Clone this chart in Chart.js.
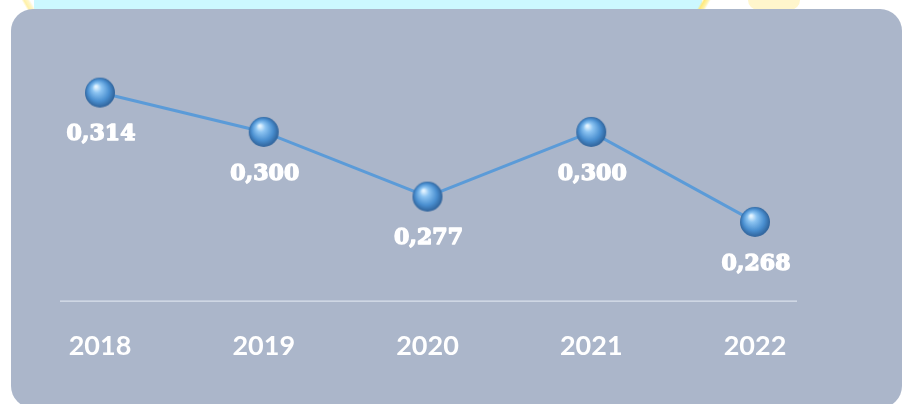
<!DOCTYPE html>
<html>
<head>
<meta charset="utf-8">
<script src="https://cdn.jsdelivr.net/npm/chart.js@4.4.0/dist/chart.umd.min.js"></script>
<style>
  html, body { margin:0; padding:0; background:#ffffff; width:905px; height:404px; overflow:hidden; }
  #wrap { position:relative; width:905px; height:404px; }
  .deco { position:absolute; }
  #panel { position:absolute; left:11px; top:9px; width:891px; height:399px; background:#abb6ca; border-radius:22px; }
  canvas { position:absolute; left:0; top:0; }
</style>
</head>
<body>
<div id="wrap">
  <div class="deco" style="left:34px;top:0;width:668px;height:10px;background:#ccf8ff;"></div>
  <div class="deco" style="left:18px;top:0;width:20px;height:10px;background:linear-gradient(60deg,transparent 35%,#fff1a8 45%,#fff6c8 60%,transparent 70%);"></div>
  <div class="deco" style="left:693px;top:0;width:20px;height:10px;background:linear-gradient(120deg,transparent 35%,#ffe97a 45%,#fff3b0 60%,transparent 70%);"></div>
  <div class="deco" style="left:748px;top:0;width:52px;height:10px;background:#fff6cc;border-radius:0 0 20px 20px;"></div>
  <div id="panel"></div>
  <canvas id="c" width="905" height="404"></canvas>
</div>
<script>
const years = ["2018", "2019", "2020", "2021", "2022"];
const values = [0.314, 0.300, 0.277, 0.300, 0.268];
const valueLabels = ["0,314", "0,300", "0,277", "0,300", "0,268"];

function makeSphere() {
  const s = 32, c = document.createElement('canvas');
  c.width = s; c.height = s;
  const g = c.getContext('2d');
  const grad = g.createRadialGradient(12, 10, 1, 16, 16, 16);
  grad.addColorStop(0, '#e2f3ff');
  grad.addColorStop(0.25, '#8cc4f2');
  grad.addColorStop(0.65, '#4a8fd0');
  grad.addColorStop(1, '#2a5a90');
  g.beginPath(); g.arc(16, 16, 15, 0, Math.PI * 2);
  g.fillStyle = grad; g.fill();
  return c;
}
const sphere = makeSphere();

const decorPlugin = {
  id: 'decor',
  beforeDatasetsDraw(chart) {
    const ctx = chart.ctx, x = chart.scales.x, a = chart.chartArea;
    ctx.save();
    ctx.strokeStyle = 'rgba(235,240,248,0.75)';
    ctx.lineWidth = 1.3;
    ctx.beginPath();
    ctx.moveTo(x.getPixelForValue(0) - 40, a.bottom + 0.5);
    ctx.lineTo(x.getPixelForValue(years.length - 1) + 42, a.bottom + 0.5);
    ctx.stroke();
    ctx.restore();
  },
  afterDatasetsDraw(chart) {
    const ctx = chart.ctx, meta = chart.getDatasetMeta(0);
    ctx.save();
    ctx.font = 'bold 22px "DejaVu Serif"';
    ctx.fillStyle = '#ffffff';
    ctx.strokeStyle = '#ffffff';
    ctx.lineWidth = 1.4;
    ctx.lineJoin = 'round';
    ctx.textAlign = 'center';
    ctx.textBaseline = 'middle';
    meta.data.forEach((pt, i) => {
      ctx.strokeText(valueLabels[i], pt.x + 1, pt.y + 42);
      ctx.fillText(valueLabels[i], pt.x + 1, pt.y + 42);
    });
    ctx.restore();
  }
};

new Chart(document.getElementById('c'), {
  type: 'line',
  data: {
    labels: years,
    datasets: [{
      data: values,
      borderColor: '#5b9bd8',
      borderWidth: 3,
      tension: 0,
      pointStyle: sphere,
      pointRadius: 15,
      pointHoverRadius: 15,
      clip: false
    }]
  },
  options: {
    responsive: false,
    animation: false,
    devicePixelRatio: 1,
    layout: { padding: { left: 100, right: 150, top: 40, bottom: 21 } },
    plugins: { legend: { display: false }, tooltip: { enabled: false } },
    scales: {
      y: { display: false, min: 0.24, max: 0.3327 },
      x: {
        offset: false,
        grid: { display: false },
        border: { display: false },
        ticks: { color: '#ffffff', padding: 21, font: { family: 'Lato', weight: 'bold', size: 27 } }
      }
    }
  },
  plugins: [decorPlugin]
});
</script>
</body>
</html>
